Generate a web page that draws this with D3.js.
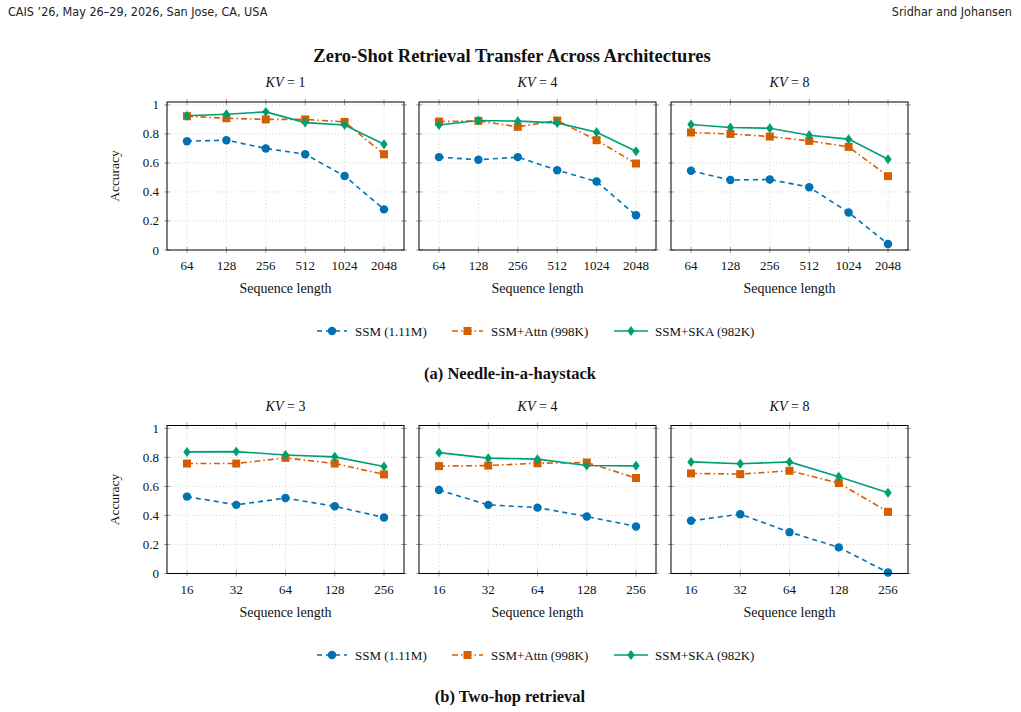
<!DOCTYPE html>
<html lang="en">
<head>
<meta charset="UTF-8">
<title>Zero-Shot Retrieval Transfer Across Architectures</title>
<style>
    body { margin: 0; background: #fff; }
    svg { display: block; }
    .hdr { font-family: "Liberation Sans Narrow", "DejaVu Sans Condensed", sans-serif; font-size: 12.5px; fill: #222; }
    .serif { font-family: "Liberation Serif", "DejaVu Serif", serif; fill: #111; }
    .grid line { stroke: #c8c8c8; stroke-width: 0.8; stroke-dasharray: 1 2.5; }
</style>
</head>
<body>
<svg></svg>
<script src="https://d3js.org/d3.v7.min.js"></script>
<script>
const width = 1021, height = 712;

// ---- data ----
const needleLengths = ["64", "128", "256", "512", "1024", "2048"];
const twoHopLengths = ["16", "32", "64", "128", "256"];
const needleKV = [1, 4, 8];
const twoHopKV = [3, 4, 8];

const needleSSM = [
    [0.75, 0.757, 0.70, 0.66, 0.51, 0.28],
    [0.64, 0.622, 0.64, 0.55, 0.472, 0.239],
    [0.546, 0.482, 0.486, 0.433, 0.259, 0.041]
];
const needleAttn = [
    [0.922, 0.908, 0.90, 0.90, 0.883, 0.66],
    [0.885, 0.89, 0.849, 0.892, 0.757, 0.596],
    [0.81, 0.80, 0.782, 0.752, 0.711, 0.509]
];
const needleSKA = [
    [0.925, 0.936, 0.952, 0.878, 0.862, 0.729],
    [0.862, 0.892, 0.888, 0.876, 0.812, 0.681],
    [0.865, 0.844, 0.839, 0.791, 0.764, 0.626]
];

const twoHopSSM = [
    [0.53, 0.473, 0.52, 0.463, 0.386],
    [0.575, 0.473, 0.454, 0.393, 0.324],
    [0.363, 0.409, 0.285, 0.18, 0.007]
];
const twoHopAttn = [
    [0.758, 0.758, 0.797, 0.758, 0.683],
    [0.74, 0.744, 0.76, 0.765, 0.658],
    [0.69, 0.685, 0.708, 0.623, 0.425]
];
const twoHopSKA = [
    [0.838, 0.84, 0.817, 0.804, 0.737],
    [0.833, 0.795, 0.788, 0.744, 0.742],
    [0.769, 0.756, 0.769, 0.667, 0.557]
];

const seriesNames = ["SSM (1.11M)", "SSM+Attn (998K)", "SSM+SKA (982K)"];
const yTicks = [0, 0.2, 0.4, 0.6, 0.8, 1];

// ---- styles per series ----
const colors = ["#0072B2", "#D55E00", "#009E73"];
const dashes = ["5 4", "6 3 1.5 3", null];
const shapes = [d3.symbolCircle, d3.symbolSquare, d3.symbolDiamond2];
const shapeSize = [56, 64, 48];

const svg = d3.select("svg").attr("width", width).attr("height", height);

// page header
svg.append("text").attr("class", "hdr").attr("x", 8).attr("y", 16)
    .text("CAIS \u201926, May 26\u201329, 2026, San Jose, CA, USA");
svg.append("text").attr("class", "hdr").attr("x", 1012).attr("y", 16)
    .attr("text-anchor", "end").text("Sridhar and Johansen");

// figure title
svg.append("text").attr("class", "serif")
    .attr("x", 512).attr("y", 62)
    .attr("text-anchor", "middle")
    .style("font-size", "18.5px").style("font-weight", "bold")
    .text("Zero-Shot Retrieval Transfer Across Architectures");

const panelLefts = [167, 419, 671];
const panelW = 237, panelH = 148;

function drawMarker(g, i, x, y) {
    return g.append("path")
        .attr("d", d3.symbol().type(shapes[i]).size(shapeSize[i])())
        .attr("transform", `translate(${x},${y})` + (i === 2 ? " scale(0.85,1.15)" : ""))
        .attr("fill", colors[i]);
}

function drawPanel(left, top, cats, kv, series, showY) {
    const g = svg.append("g").attr("transform", `translate(${left},${top})`);
    const x = d3.scalePoint().domain(cats).range([20, panelW - 20]);
    const y = d3.scaleLinear().domain([0, 1.02]).range([panelH, 0]);

    // grid
    const grid = g.append("g").attr("class", "grid");
    grid.selectAll(".gy").data(yTicks.slice(1)).enter().append("line")
        .attr("x1", 0).attr("x2", panelW)
        .attr("y1", d => y(d)).attr("y2", d => y(d));
    grid.selectAll(".gx").data(cats).enter().append("line")
        .attr("x1", d => x(d)).attr("x2", d => x(d))
        .attr("y1", 0).attr("y2", panelH);

    // ticks crossing the frame
    const tk = g.append("g").attr("stroke", "#8a8a8a").attr("stroke-width", 0.8);
    yTicks.forEach(t => {
        tk.append("line").attr("x1", -3).attr("x2", 3).attr("y1", y(t)).attr("y2", y(t));
        tk.append("line").attr("x1", panelW - 3).attr("x2", panelW + 3).attr("y1", y(t)).attr("y2", y(t));
    });
    cats.forEach(c => {
        tk.append("line").attr("x1", x(c)).attr("x2", x(c)).attr("y1", panelH - 3).attr("y2", panelH + 3);
        tk.append("line").attr("x1", x(c)).attr("x2", x(c)).attr("y1", -3).attr("y2", 3);
    });

    // series
    series.forEach((vals, i) => {
        const line = d3.line().x((d, j) => x(cats[j])).y(d => y(d));
        const p = g.append("path").datum(vals)
            .attr("d", line)
            .attr("fill", "none")
            .attr("stroke", colors[i])
            .attr("stroke-width", 1.6);
        if (dashes[i]) p.attr("stroke-dasharray", dashes[i]);
    });
    series.forEach((vals, i) => {
        vals.forEach((v, j) => drawMarker(g, i, x(cats[j]), y(v)));
    });

    // frame
    g.append("rect").attr("width", panelW).attr("height", panelH)
        .attr("fill", "none").attr("stroke", "#000").attr("stroke-width", 1);

    // x tick labels
    g.selectAll(".xl").data(cats).enter().append("text")
        .attr("class", "serif").attr("x", d => x(d)).attr("y", panelH + 20)
        .attr("text-anchor", "middle").style("font-size", "13px").text(d => d);
    g.append("text").attr("class", "serif")
        .attr("x", panelW / 2).attr("y", panelH + 43)
        .attr("text-anchor", "middle").style("font-size", "14px")
        .text("Sequence length");

    // y tick labels
    if (showY) {
        g.selectAll(".yl").data(yTicks).enter().append("text")
            .attr("class", "serif").attr("x", -8).attr("y", d => y(d) + 4.5)
            .attr("text-anchor", "end").style("font-size", "13px")
            .text(d => d3.format("~g")(d));
        g.append("text").attr("class", "serif")
            .attr("transform", `translate(-48,${panelH / 2}) rotate(-90)`)
            .attr("text-anchor", "middle").style("font-size", "13.5px")
            .text("Accuracy");
    }

    // panel title
    const t = g.append("text").attr("class", "serif")
        .attr("x", panelW / 2).attr("y", -15)
        .attr("text-anchor", "middle").style("font-size", "14px");
    t.append("tspan").style("font-style", "italic").text("KV");
    t.append("tspan").text(" = " + kv);
}

function drawLegend(cy) {
    const items = [
        { x0: 317, x1: 347, tx: 355 },
        { x0: 452, x1: 483, tx: 491 },
        { x0: 614, x1: 648, tx: 655 }
    ];
    items.forEach((it, i) => {
        const p = svg.append("line")
            .attr("x1", it.x0).attr("x2", it.x1).attr("y1", cy).attr("y2", cy)
            .attr("stroke", colors[i]).attr("stroke-width", 1.6);
        if (dashes[i]) p.attr("stroke-dasharray", dashes[i]);
        drawMarker(svg, i, (it.x0 + it.x1) / 2, cy);
        svg.append("text").attr("class", "serif")
            .attr("x", it.tx).attr("y", cy + 4.5)
            .style("font-size", "13px").text(seriesNames[i]);
    });
}

function drawCaption(text, cy) {
    svg.append("text").attr("class", "serif")
        .attr("x", 510).attr("y", cy + 5.5)
        .attr("text-anchor", "middle")
        .style("font-size", "16.5px").style("font-weight", "bold")
        .text(text);
}

// (a) needle-in-a-haystack
needleKV.forEach((kv, p) => {
    drawPanel(panelLefts[p], 102, needleLengths, kv,
        [needleSSM[p], needleAttn[p], needleSKA[p]], p === 0);
});
drawLegend(331);
drawCaption("(a) Needle-in-a-haystack", 373);

// (b) two-hop retrieval
twoHopKV.forEach((kv, p) => {
    drawPanel(panelLefts[p], 425.5, twoHopLengths, kv,
        [twoHopSSM[p], twoHopAttn[p], twoHopSKA[p]], p === 0);
});
drawLegend(655);
drawCaption("(b) Two-hop retrieval", 696);
</script>
</body>
</html>
